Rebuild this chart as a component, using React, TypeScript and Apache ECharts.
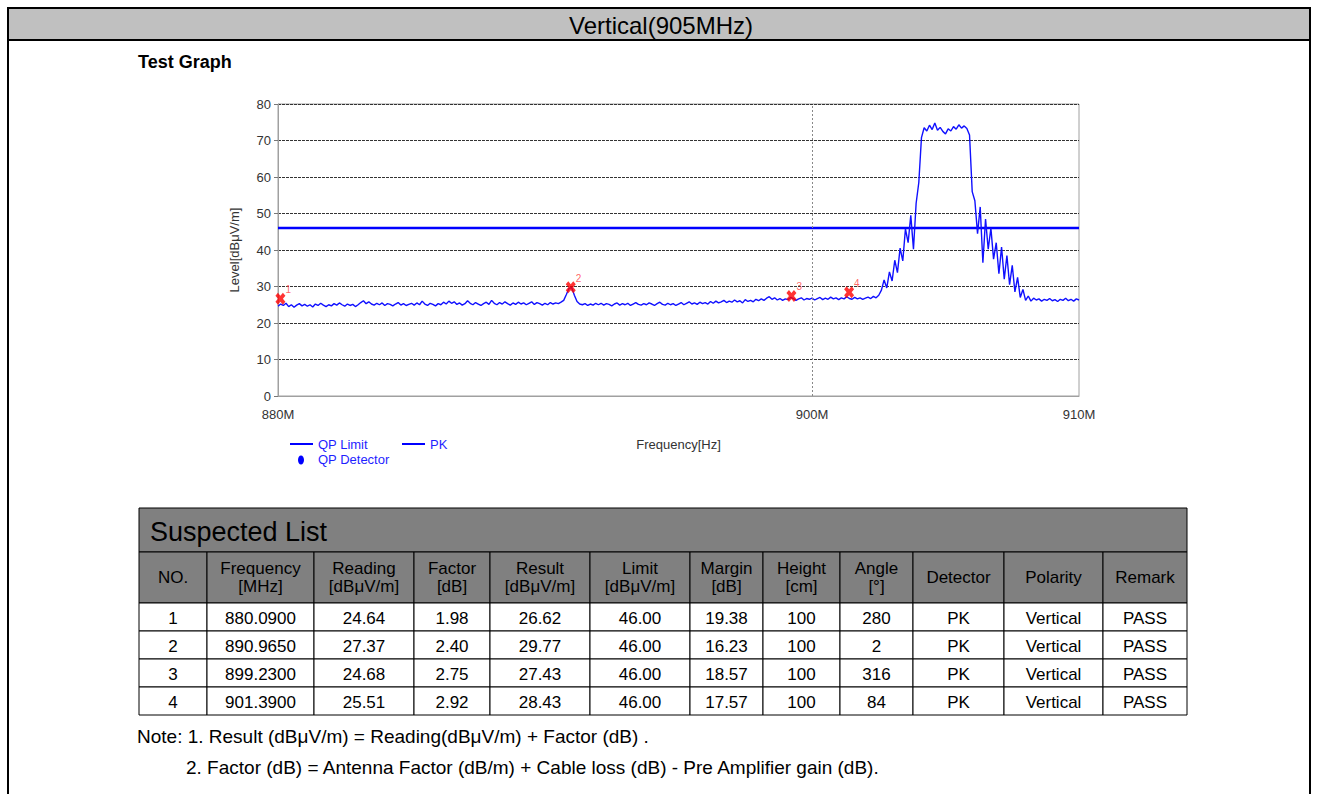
import { useEffect, useRef } from "react";
import * as echarts from "echarts";

// ---------- data ----------
const TITLE = "Vertical(905MHz)";
const SUBTITLE = "Test Graph";
const X_MIN = 880;
const X_MAX = 910;
const X_LABEL_VALUES = [880, 900, 910];
const X_GRID_VALUES = [900];
const Y_MIN = 0;
const Y_MAX = 80;
const Y_STEP = 10;
const QP_LIMIT = 46;

const PK_START_MHZ = 880;
const PK_STEP_MHZ = 0.1;
const PK_LEVELS = [
  24.6, 25.2, 24.8, 25.4, 24.5, 25.0, 24.3, 24.9, 25.3, 24.7,
  25.1, 24.6, 25.0, 24.4, 25.2, 24.8, 25.4, 24.9, 24.5, 25.0,
  24.7, 25.3, 24.9, 25.5, 25.0, 24.6, 25.2, 24.8, 25.1, 24.5,
  25.0, 25.6, 26.1, 25.3, 25.8, 25.2, 24.9, 25.4, 25.0, 25.5,
  24.8, 25.3, 25.1, 24.7, 25.2, 25.6, 24.9, 25.3, 24.8, 25.1,
  25.4, 24.9, 25.5, 25.0, 26.0, 25.2, 24.8, 25.4, 25.1, 24.7,
  25.3, 25.0, 25.7, 25.2, 26.0, 25.4, 25.8, 25.1, 25.5, 24.9,
  25.3, 26.1, 25.4, 25.0, 25.6, 25.2, 24.8, 25.3, 25.7, 25.1,
  26.2, 25.4, 25.0, 25.6, 25.2, 25.8, 25.3, 24.9, 25.5, 25.1,
  25.7, 25.2, 25.5, 25.0, 25.4, 25.8, 25.1, 25.6, 25.3, 24.9,
  25.4, 25.0, 25.6, 25.2, 25.5, 25.3, 25.7, 26.2, 27.8, 29.5,
  29.7, 27.6, 25.9, 25.2, 25.0, 25.3, 24.8, 25.2, 24.9, 25.4,
  25.0, 25.4, 24.9, 25.3, 25.1, 24.7, 25.2, 25.5, 24.9, 25.3,
  25.0, 25.4, 24.8, 25.2, 25.6, 25.1, 24.9, 25.3, 25.0, 25.5,
  25.2, 24.8, 25.3, 25.7, 25.1, 24.9, 25.4, 25.0, 25.3, 24.8,
  25.2, 25.6, 25.0, 25.4, 25.8, 25.2, 25.5, 25.1, 25.7, 25.3,
  25.6, 25.2, 25.9, 25.4, 26.0, 25.5, 25.8, 26.2, 25.6, 26.0,
  25.7, 26.3, 25.8, 26.1, 25.5, 26.4, 25.9, 26.2, 25.8, 26.5,
  26.1, 26.6, 26.2, 26.8, 27.2, 26.5, 26.9, 26.3, 26.7, 26.2,
  26.6, 26.4, 27.0, 26.7, 26.2, 26.6, 26.9, 26.3, 26.7, 26.5,
  26.8, 26.3, 26.7, 27.0, 26.4, 26.8, 26.5, 27.1, 26.6, 26.9,
  26.4, 26.9, 26.6, 27.2, 26.7, 26.5, 27.0, 26.6, 26.9, 26.5,
  26.8, 27.1, 26.7, 27.3, 26.9, 27.6, 29.0, 31.8, 29.6, 34.0,
  31.5, 37.2, 33.8, 40.5, 37.0, 45.8, 42.0, 49.5, 40.2, 52.8,
  58.5, 70.8, 73.5, 72.6, 74.2, 73.0, 74.8, 72.8, 73.6, 72.5,
  71.8, 73.2, 72.6, 73.8, 73.1, 74.3, 73.4, 74.0, 73.3, 71.5,
  56.0, 53.5, 44.5, 51.8, 36.5, 48.5, 40.2, 46.0, 37.5, 42.0,
  33.5, 40.8, 32.0, 38.5, 30.5, 35.8, 28.5, 32.5, 27.0, 29.2,
  26.2, 27.4, 26.0, 26.8, 26.3, 26.6, 26.0, 26.5, 26.2, 26.7,
  26.1, 26.4, 25.9, 26.5, 26.2, 26.8, 26.1, 26.5, 26.0, 26.6,
  26.3,
];

const MARK_NO = [1, 2, 3, 4];
const MARK_FREQ = [880.09, 890.965, 899.23, 901.39];
const READING = [24.64, 27.37, 24.68, 25.51];
const FACTOR = [1.98, 2.4, 2.75, 2.92];
const RESULT = [26.62, 29.77, 27.43, 28.43];
const LIMIT = [46, 46, 46, 46];
const MARGIN = [19.38, 16.23, 18.57, 17.57];
const HEIGHT = [100, 100, 100, 100];
const ANGLE = [280, 2, 316, 84];
const DETECTOR = ["PK", "PK", "PK", "PK"];
const POLARITY = ["Vertical", "Vertical", "Vertical", "Vertical"];
const REMARK = ["PASS", "PASS", "PASS", "PASS"];

const TABLE_TITLE = "Suspected List";
const HEADERS = [
  "NO.",
  "Frequency\n[MHz]",
  "Reading\n[dBμV/m]",
  "Factor\n[dB]",
  "Result\n[dBμV/m]",
  "Limit\n[dBμV/m]",
  "Margin\n[dB]",
  "Height\n[cm]",
  "Angle\n[°]",
  "Detector",
  "Polarity",
  "Remark",
];
const NOTES = [
  "Note: 1. Result (dBμV/m) = Reading(dBμV/m) + Factor (dB) .",
  "2. Factor (dB) = Antenna Factor (dB/m) + Cable loss (dB) - Pre Amplifier gain (dB).",
];
const LEGEND_LABELS = ["QP Limit", "PK", "QP Detector"];

// ---------- layout ----------
const W = 1318;
const H = 794;
const NARROW = '"Liberation Sans Narrow", "Arial Narrow", "Liberation Sans", Arial, sans-serif';
const SANS = '"Liberation Sans", Arial, sans-serif';
const COL_X = [139, 207, 314, 414, 490, 590, 690, 763, 840, 913, 1004, 1103, 1187];
const T_TOP = 508;
const T_TITLE_H = 44;
const T_HEAD_H = 51;
const T_ROW_H = 28;

const X_SHAPE = "path://M0,2.5L2.5,0L5,2.5L7.5,0L10,2.5L7.5,5L10,7.5L7.5,10L5,7.5L2.5,10L0,7.5L2.5,5Z";

function txt(text: string, x: number, y: number, size: number, align: string, extra: any = {}) {
  return {
    type: "text",
    style: {
      text,
      x,
      y,
      align,
      verticalAlign: "middle",
      textAlign: align,
      textVerticalAlign: "middle",
      fontSize: size,
      fontFamily: SANS,
      fill: "#000",
      ...extra,
    },
  };
}

function buildGraphics() {
  const els: any[] = [];
  // outer frame + title band
  els.push({ type: "rect", shape: { x: 8, y: 8, width: 1302, height: 32 }, style: { fill: "#c0c0c0", stroke: "#000", lineWidth: 2 } });
  els.push({ type: "line", shape: { x1: 8, y1: 40, x2: 8, y2: H + 5 }, style: { stroke: "#000", lineWidth: 2 } });
  els.push({ type: "line", shape: { x1: 1310, y1: 40, x2: 1310, y2: H + 5 }, style: { stroke: "#000", lineWidth: 2 } });
  els.push(txt(TITLE, 661, 25, 24, "center"));
  els.push(txt(SUBTITLE, 138, 62, 18, "left", { fontWeight: "bold" }));

  // legend
  const blue = "#1f1fff";
  els.push({ type: "line", shape: { x1: 290, y1: 444, x2: 313, y2: 444 }, style: { stroke: "#0000ff", lineWidth: 2 } });
  els.push(txt(LEGEND_LABELS[0], 318, 444, 13, "left", { fontFamily: NARROW, fill: blue }));
  els.push({ type: "line", shape: { x1: 402, y1: 444, x2: 425, y2: 444 }, style: { stroke: "#0000ff", lineWidth: 2 } });
  els.push(txt(LEGEND_LABELS[1], 430, 444, 13, "left", { fontFamily: NARROW, fill: blue }));
  els.push({ type: "ellipse", shape: { cx: 301, cy: 460, rx: 3, ry: 4.5 }, style: { fill: "#0000ff" } });
  els.push(txt(LEGEND_LABELS[2], 318, 459, 13, "left", { fontFamily: NARROW, fill: blue }));

  // table
  const left = COL_X[0];
  const right = COL_X[COL_X.length - 1];
  els.push({ type: "rect", shape: { x: left, y: T_TOP, width: right - left, height: T_TITLE_H }, style: { fill: "#808080", stroke: "#000", lineWidth: 1 } });
  els.push(txt(TABLE_TITLE, left + 11, T_TOP + T_TITLE_H / 2 + 2, 27, "left"));
  const headTop = T_TOP + T_TITLE_H;
  for (let c = 0; c < HEADERS.length; c++) {
    const x0 = COL_X[c];
    const x1 = COL_X[c + 1];
    els.push({ type: "rect", shape: { x: x0, y: headTop, width: x1 - x0, height: T_HEAD_H }, style: { fill: "#808080", stroke: "#000", lineWidth: 1 } });
    els.push(txt(HEADERS[c], (x0 + x1) / 2, headTop + T_HEAD_H / 2, 17, "center", { lineHeight: 18 }));
  }
  const rows = MARK_NO.map((n, i) => [
    String(n),
    MARK_FREQ[i].toFixed(4),
    READING[i].toFixed(2),
    FACTOR[i].toFixed(2),
    RESULT[i].toFixed(2),
    LIMIT[i].toFixed(2),
    MARGIN[i].toFixed(2),
    String(HEIGHT[i]),
    String(ANGLE[i]),
    DETECTOR[i],
    POLARITY[i],
    REMARK[i],
  ]);
  const bodyTop = headTop + T_HEAD_H;
  rows.forEach((row, r) => {
    const y0 = bodyTop + r * T_ROW_H;
    row.forEach((cell, c) => {
      const x0 = COL_X[c];
      const x1 = COL_X[c + 1];
      els.push({ type: "rect", shape: { x: x0, y: y0, width: x1 - x0, height: T_ROW_H }, style: { fill: "#fff", stroke: "#000", lineWidth: 1 } });
      els.push(txt(cell, (x0 + x1) / 2, y0 + T_ROW_H / 2 + 1, 17, "center"));
    });
  });
  // notes
  els.push(txt(NOTES[0], 137, 736, 19, "left"));
  els.push(txt(NOTES[1], 186, 767, 19, "left"));
  return els;
}

export default function App() {
  const ref = useRef<HTMLDivElement>(null);
  useEffect(() => {
    if (!ref.current) return;
    const chart = echarts.init(ref.current, null, { renderer: "svg" });
    const pkData = PK_LEVELS.map((v, i) => [+(PK_START_MHZ + i * PK_STEP_MHZ).toFixed(2), v]);
    const markerData = MARK_FREQ.map((f, i) => [f, RESULT[i]]);
    chart.setOption({
      animation: false,
      backgroundColor: "#fff",
      grid: { left: 278, right: W - 1079, top: 104, bottom: H - 396, show: true, borderColor: "#a0a0a0", borderWidth: 1 },
      xAxis: {
        type: "value",
        min: X_MIN,
        max: X_MAX,
        name: "Frequency[Hz]",
        nameLocation: "middle",
        nameGap: 42,
        nameTextStyle: { color: "#333", fontSize: 13, fontFamily: NARROW },
        axisLine: { show: true, lineStyle: { color: "#a0a0a0" } },
        axisTick: { show: false },
        splitLine: { show: false },
        axisLabel: {
          customValues: X_LABEL_VALUES,
          formatter: (v: number) => `${v}M`,
          color: "#333",
          fontSize: 13,
          fontFamily: NARROW,
          margin: 12,
        },
      },
      yAxis: {
        type: "value",
        min: Y_MIN,
        max: Y_MAX,
        interval: Y_STEP,
        name: "Level[dBμV/m]",
        nameLocation: "middle",
        nameGap: 37,
        nameRotate: 90,
        nameTextStyle: { color: "#333", fontSize: 13, fontFamily: NARROW },
        axisLine: { show: true, lineStyle: { color: "#a0a0a0" } },
        axisTick: { show: true, length: 4, lineStyle: { color: "#777" } },
        axisLabel: { color: "#333", fontSize: 13, fontFamily: NARROW, margin: 7 },
        splitLine: { show: true, lineStyle: { color: "#333", type: [3, 1], width: 1 } },
      },
      series: [
        {
          name: "QP Limit",
          type: "line",
          data: [[X_MIN, QP_LIMIT], [X_MAX, QP_LIMIT]],
          symbol: "none",
          lineStyle: { color: "#0000ff", width: 2.5 },
          z: 3,
          markLine: {
            silent: true,
            symbol: "none",
            label: { show: false },
            lineStyle: { color: "#888", type: [2, 2], width: 1 },
            data: X_GRID_VALUES.map((v) => ({ xAxis: v })),
          },
        },
        {
          name: "PK",
          type: "line",
          data: pkData,
          symbol: "none",
          lineStyle: { color: "#1010ff", width: 1.4 },
          z: 4,
        },
        {
          name: "QP Detector",
          type: "scatter",
          data: markerData,
          symbol: X_SHAPE,
          symbolSize: [10, 12],
          itemStyle: { color: "#ff0000" },
          z: 5,
          label: {
            show: true,
            formatter: (p: any) => String(MARK_NO[p.dataIndex]),
            position: [10, -8],
            color: "#ff4040",
            fontSize: 10,
            fontFamily: NARROW,
          },
        },
      ],
      graphic: buildGraphics(),
    });
    return () => chart.dispose();
  }, []);
  return <div ref={ref} style={{ position: "fixed", left: 0, top: 0, width: W, height: H, background: "#fff" }} />;
}
